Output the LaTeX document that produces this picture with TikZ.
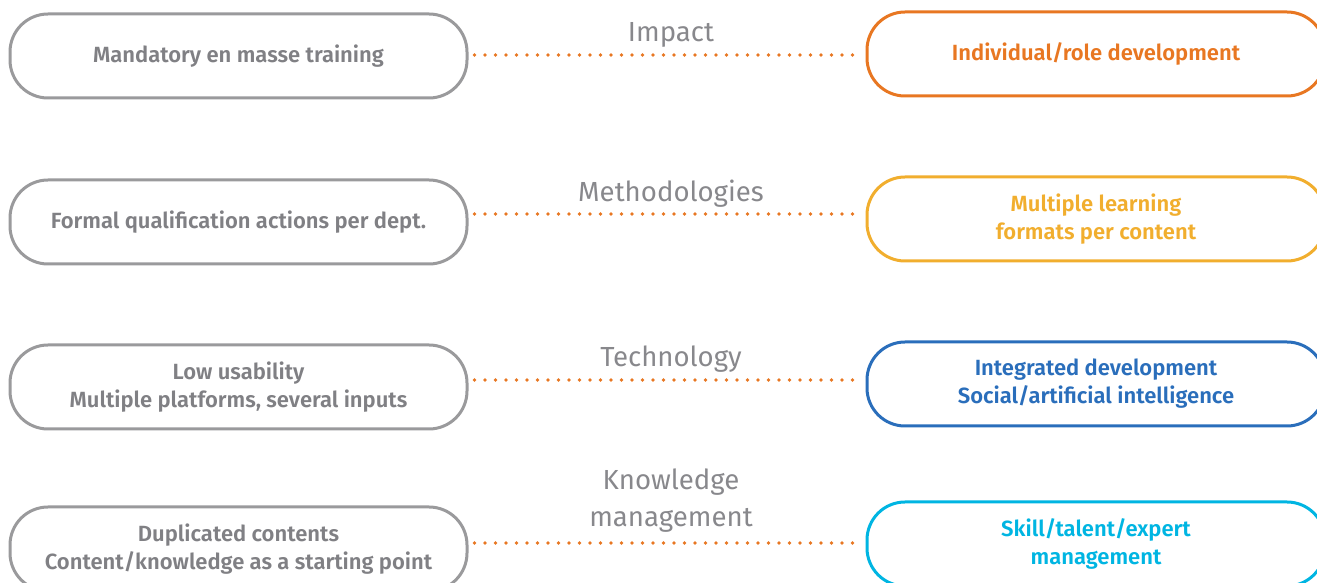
\documentclass[tikz,border=0pt]{standalone}
\usepackage{fontspec}
\setmainfont{Fira Sans}
\newfontfamily\boxfont{Fira Sans SemiBold}
\usetikzlibrary{positioning}
\definecolor{oldgray}{RGB}{154, 154, 156}
\definecolor{oldtext}{RGB}{128, 128, 132}
\definecolor{labgray}{RGB}{136, 136, 140}
\definecolor{impactorange}{RGB}{232, 119, 34}
\definecolor{methyellow}{RGB}{241, 174, 46}
\definecolor{techblue}{RGB}{42, 110, 187}
\definecolor{knowcyan}{RGB}{0, 181, 226}

\begin{document}
\begin{tikzpicture}[
    x=0.5pt, y=0.5pt,
    pill/.style={rectangle, rounded corners=19pt, draw, line width=1.5pt, minimum width=228.5pt, minimum height=42pt, inner sep=0pt, align=center, font=\boxfont\fontsize{11}{14}\selectfont},
    oldbox/.style={pill, draw=oldgray, text=oldtext},
    newbox/.style={pill, draw=#1, text=#1, minimum width=229pt},
    dotline/.style={impactorange, line width=1.8pt, line cap=round, dash pattern=on 0pt off 5.25pt},
    topic/.style={align=center, text=labgray, font=\fontsize{13.8}{18.5}\selectfont}
]
    \useasboundingbox (0, 0) rectangle (1317, 583);
    \clip (0, 0) rectangle (1317, 583);

    % Row 1: Impact
    \node[oldbox] (old1) at (238.5, 527) {Mandatory en masse training};
    \node[newbox=impactorange] (new1) at (1096, 529) {Individual/role development};
    \coordinate (dot1) at (671, 528);
    \node[topic] (lab1) at (671, 548) {Impact};

    % Row 2: Methodologies
    \node[oldbox] (old2) at (238.5, 361) {Formal qualification actions per dept.};
    \node[newbox=methyellow] (new2) at (1096, 364) {Multiple learning\\formats per content};
    \coordinate (dot2) at (671, 369);
    \node[topic] (lab2) at (671, 389) {Methodologies};

    % Row 3: Technology
    \node[oldbox] (old3) at (238.5, 196) {Low usability\\Multiple platforms, several inputs};
    \node[newbox=techblue] (new3) at (1096, 199) {Integrated development\\Social/artificial intelligence};
    \coordinate (dot3) at (671, 203);
    \node[topic] (lab3) at (671, 224) {Technology};

    % Row 4: Knowledge management
    \node[oldbox] (old4) at (238.5, 34) {Duplicated contents\\Content/knowledge as a starting point};
    \node[newbox=knowcyan] (new4) at (1096, 39) {Skill/talent/expert\\management};
    \coordinate (dot4) at (671, 40);
    \node[topic] (lab4) at (671, 82) {Knowledge\\management};

    % Dotted links
    \foreach \i in {1, 2, 3, 4}
        \draw[dotline, shorten <=3pt, shorten >=4.5pt] (old\i.east |- dot\i) -- (new\i.west |- dot\i);
\end{tikzpicture}
\end{document}
